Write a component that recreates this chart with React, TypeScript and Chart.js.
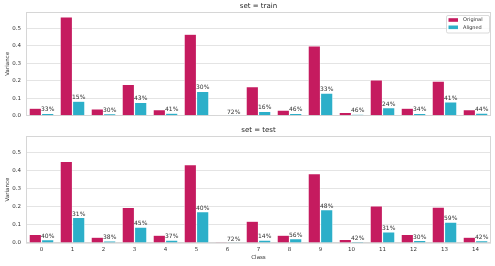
import React, { useEffect, useRef } from 'react';
import { Chart, registerables } from 'chart.js';

Chart.register(...registerables);

const classes = ['0', '1', '2', '3', '4', '5', '6', '7', '8', '9', '10', '11', '12', '13', '14'];

const trainOriginal = [0.043, 0.564, 0.039, 0.179, 0.035, 0.465, 0.001, 0.166, 0.032, 0.398, 0.019, 0.205, 0.043, 0.198, 0.034];
const trainAligned = [0.013, 0.083, 0.011, 0.076, 0.014, 0.139, 0.0007, 0.025, 0.013, 0.129, 0.008, 0.046, 0.013, 0.079, 0.015];
const trainPct = ['33%', '15%', '30%', '43%', '41%', '30%', '72%', '16%', '46%', '33%', '46%', '24%', '34%', '41%', '44%'];

const testOriginal = [0.047, 0.451, 0.032, 0.197, 0.043, 0.434, 0.001, 0.121, 0.043, 0.384, 0.020, 0.205, 0.047, 0.199, 0.032];
const testAligned = [0.018, 0.141, 0.012, 0.088, 0.016, 0.174, 0.0007, 0.016, 0.024, 0.184, 0.008, 0.062, 0.014, 0.116, 0.013];
const testPct = ['40%', '31%', '38%', '45%', '37%', '40%', '72%', '14%', '56%', '48%', '42%', '31%', '30%', '59%', '42%'];

const seriesNames = ['Original', 'Aligned'];
const panelTitles = ['set = train', 'set = test'];
const yTitle = 'Variance';
const xTitle = 'Class';

const FONT = "'DejaVu Sans', sans-serif";
const ORIG = '#c51b5f';
const ALIGN = '#2cafc9';
const TEXT = '#333333';
const GRID = '#e4e4e4';
const FRAME = '#d6d6d6';

const yMax = 1.05 * Math.max(...trainOriginal, ...testOriginal, ...trainAligned, ...testAligned);

function makeChart(
  canvas: HTMLCanvasElement,
  title: string,
  original: number[],
  aligned: number[],
  pct: string[],
  isBottom: boolean,
  showLegend: boolean,
  totalH: number,
  areaBottom: number
) {
  const framePlugin = {
    id: 'frame',
    beforeDatasetsDraw(chart: any) {
      const { ctx, chartArea: a } = chart;
      ctx.save();
      ctx.strokeStyle = FRAME;
      ctx.lineWidth = 1;
      const l = Math.round(a.left) + 0.5;
      const t = Math.round(a.top) + 0.5;
      const r = Math.round(a.right) - 0.5;
      const b = Math.round(a.bottom) - 0.5;
      ctx.strokeRect(l, t, r - l, b - t);
      ctx.restore();
    },
  };
  const labelPlugin = {
    id: 'pctLabels',
    afterDatasetsDraw(chart: any) {
      const { ctx } = chart;
      const meta = chart.getDatasetMeta(1);
      ctx.save();
      ctx.font = `6px ${FONT}`;
      ctx.fillStyle = TEXT;
      ctx.textAlign = 'center';
      ctx.textBaseline = 'bottom';
      meta.data.forEach((el: any, i: number) => {
        ctx.fillText(pct[i], el.x, el.y - 0.5);
      });
      ctx.restore();
    },
  };
  const titlePlugin = {
    id: 'panelTitle',
    afterDraw(chart: any) {
      const { ctx, chartArea: a } = chart;
      ctx.save();
      ctx.font = `7px ${FONT}`;
      ctx.fillStyle = '#262626';
      ctx.textAlign = 'center';
      ctx.textBaseline = 'middle';
      ctx.fillText(title, (a.left + a.right) / 2, a.top - 6);
      ctx.restore();
    },
  };
  const legendPlugin = {
    id: 'boxLegend',
    afterDraw(chart: any) {
      if (!showLegend) return;
      const { ctx, chartArea: a } = chart;
      const right = a.right - 2;
      const left = right - 43;
      const top = a.top + 3;
      const h = 17.5;
      ctx.save();
      ctx.fillStyle = 'rgba(255,255,255,0.85)';
      ctx.strokeStyle = '#d0d0d0';
      ctx.lineWidth = 0.8;
      ctx.beginPath();
      (ctx as any).roundRect(left + 0.5, top + 0.5, right - left, h, 1.5);
      ctx.fill();
      ctx.stroke();
      const colors = [ORIG, ALIGN];
      ctx.font = `5px ${FONT}`;
      ctx.textAlign = 'left';
      ctx.textBaseline = 'middle';
      seriesNames.forEach((name, i) => {
        const cy = top + 5 + i * 7.3;
        ctx.fillStyle = colors[i];
        ctx.fillRect(left + 2.5, cy - 1.8, 9.5, 3.6);
        ctx.fillStyle = TEXT;
        ctx.fillText(name, left + 17, cy);
      });
      ctx.restore();
    },
  };

  return new Chart(canvas, {
    type: 'bar',
    data: {
      labels: classes,
      datasets: [
        {
          label: seriesNames[0],
          data: original,
          backgroundColor: ORIG,
          borderColor: '#ffffff',
          borderWidth: 0.6,
          categoryPercentage: 0.8,
          barPercentage: 1,
        },
        {
          label: seriesNames[1],
          data: aligned,
          backgroundColor: ALIGN,
          borderColor: '#ffffff',
          borderWidth: 0.6,
          categoryPercentage: 0.8,
          barPercentage: 1,
        },
      ],
    },
    options: {
      responsive: false,
      animation: false,
      devicePixelRatio: 1,
      layout: { padding: { top: 12, right: 4, left: 0, bottom: 0 } },
      plugins: {
        legend: { display: false },
        title: { display: false },
        tooltip: { enabled: false },
      },
      scales: {
        x: {
          grid: { display: false, drawTicks: false },
          border: { display: false },
          ticks: {
            display: isBottom,
            font: { family: FONT, size: 5.5 },
            color: TEXT,
            padding: 3,
            maxRotation: 0,
            autoSkip: false,
          },
          title: {
            display: isBottom,
            text: xTitle,
            font: { family: FONT, size: 5.5 },
            color: TEXT,
            padding: { top: 0, bottom: 5 },
          },
          afterFit(scale: any) {
            scale.height = totalH - areaBottom;
          },
        },
        y: {
          min: 0,
          max: yMax,
          grid: { color: GRID, lineWidth: 1, drawTicks: false },
          border: { display: false },
          ticks: {
            stepSize: 0.1,
            includeBounds: false,
            font: { family: FONT, size: 5.5 },
            color: TEXT,
            padding: 5,
            callback: (v: any) => Number(v).toFixed(1),
          },
          title: {
            display: true,
            text: yTitle,
            font: { family: FONT, size: 5.5 },
            color: TEXT,
            padding: { top: 4, bottom: 0 },
          },
          afterFit(scale: any) {
            scale.width = 26;
          },
        },
      },
    } as any,
    plugins: [framePlugin, labelPlugin, titlePlugin, legendPlugin],
  });
}

export default function App() {
  const topRef = useRef<HTMLCanvasElement>(null);
  const botRef = useRef<HTMLCanvasElement>(null);

  useEffect(() => {
    const c1 = makeChart(topRef.current!, panelTitles[0], trainOriginal, trainAligned, trainPct, false, true, 124, 118);
    const c2 = makeChart(botRef.current!, panelTitles[1], testOriginal, testAligned, testPct, true, false, 142, 119);
    return () => {
      c1.destroy();
      c2.destroy();
    };
  }, []);

  return (
    <div style={{ position: 'absolute', left: 0, top: 0, width: 495, height: 266, background: '#fff' }}>
      <canvas ref={topRef} width={495} height={124} style={{ position: 'absolute', left: 0, top: 0, width: 495, height: 124 }} />
      <canvas ref={botRef} width={495} height={142} style={{ position: 'absolute', left: 0, top: 124, width: 495, height: 142 }} />
    </div>
  );
}
